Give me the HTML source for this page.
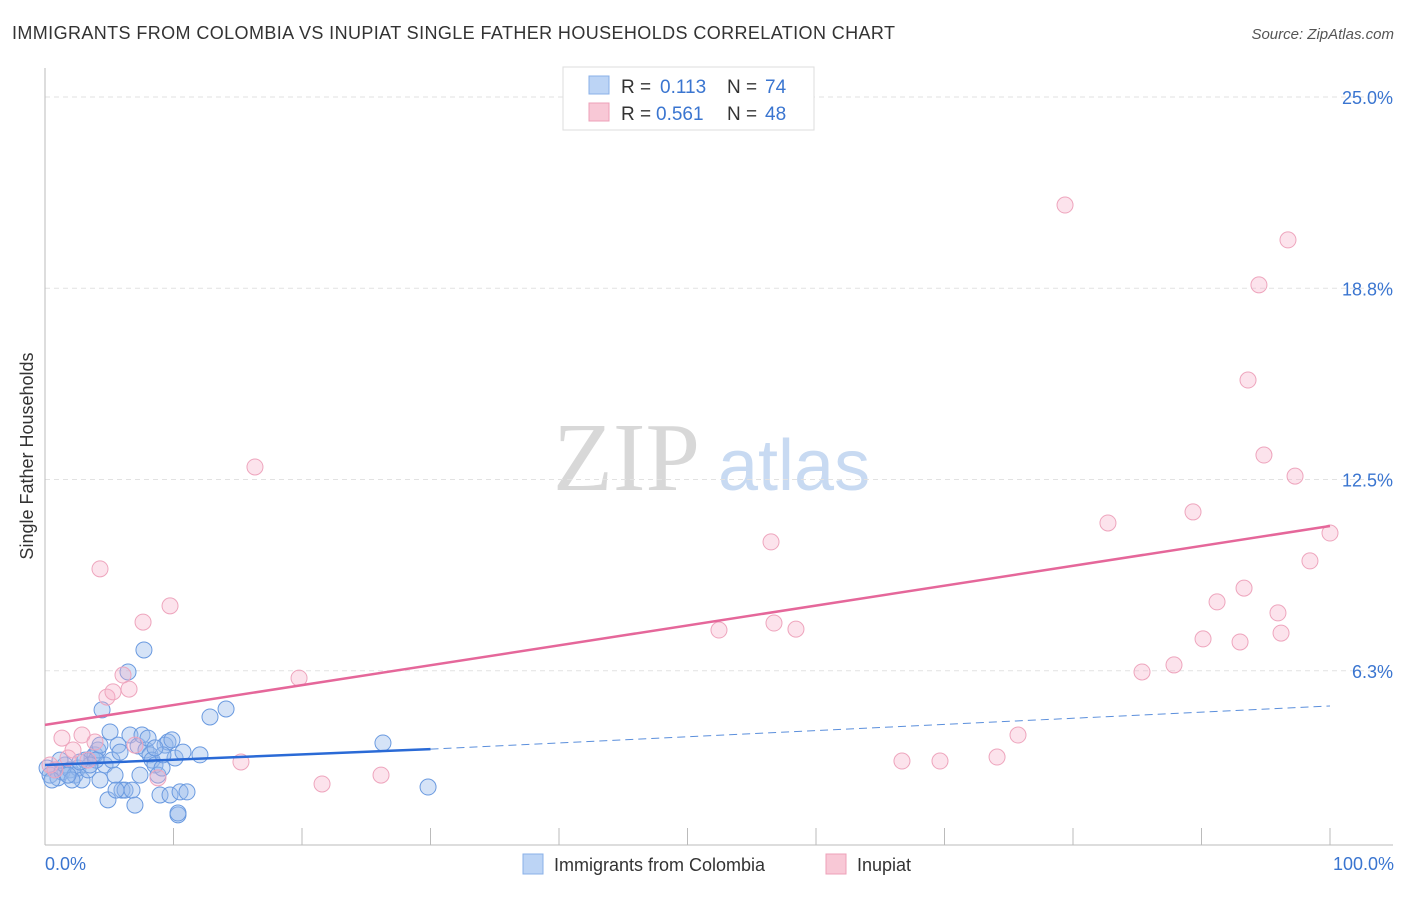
<!DOCTYPE html>
<html><head><meta charset="utf-8"><style>
body{margin:0;background:#fff;font-family:"Liberation Sans",sans-serif;}
svg text{font-family:"Liberation Sans",sans-serif;}
</style></head><body>
<svg id="c" width="1406" height="892" xmlns="http://www.w3.org/2000/svg">
<text x="12" y="39" font-size="18" fill="#333" textLength="883" lengthAdjust="spacing">IMMIGRANTS FROM COLOMBIA VS INUPIAT SINGLE FATHER HOUSEHOLDS CORRELATION CHART</text>
<text x="1394" y="39" font-size="15" fill="#555" text-anchor="end" font-style="italic">Source: ZipAtlas.com</text>
<text x="553" y="490" font-size="98" fill="#d8d8d8" style="font-family:'Liberation Serif',serif">ZIP</text>
<text x="718" y="490" font-size="72" fill="#c8daf2">atlas</text>
<g id="grid"></g>
<line x1="45" y1="68" x2="45" y2="845" stroke="#bbb"/>
<line x1="45" y1="845" x2="1393" y2="845" stroke="#bbb"/>
<g id="ticks"></g>
<g id="pts"></g>
<g id="lines"></g>
<text x="33" y="456" font-size="18" fill="#333" text-anchor="middle" transform="rotate(-90 33 456)">Single Father Households</text>
<text x="45" y="870" font-size="18" fill="#3a75d0">0.0%</text>
<text x="1394" y="870" font-size="18" fill="#3a75d0" text-anchor="end">100.0%</text>
<g>
<rect x="563" y="67" width="251" height="63" fill="#fff" stroke="#ddd"/>
<rect x="589" y="76" width="20" height="18" fill="#bcd4f5" stroke="#8ab0e8"/>
<rect x="589" y="103" width="20" height="18" fill="#f8c8d6" stroke="#eea0b8"/>
<text x="621" y="93" font-size="19" fill="#333">R = </text><text x="660" y="93" font-size="19" fill="#3a75d0">0.113</text>
<text x="727" y="93" font-size="19" fill="#333">N = </text><text x="765" y="93" font-size="19" fill="#3a75d0">74</text>
<text x="621" y="120" font-size="19" fill="#333">R = </text><text x="656" y="120" font-size="19" fill="#3a75d0">0.561</text>
<text x="727" y="120" font-size="19" fill="#333">N = </text><text x="765" y="120" font-size="19" fill="#3a75d0">48</text>
</g>
<g>
<rect x="523" y="854" width="20" height="20" fill="#bcd4f5" stroke="#8ab0e8"/>
<text x="554" y="871" font-size="18" fill="#333">Immigrants from Colombia</text>
<rect x="826" y="854" width="20" height="20" fill="#f8c8d6" stroke="#eea0b8"/>
<text x="857" y="871" font-size="18" fill="#333">Inupiat</text>
</g>
</svg>
<script>
const yTicks=[25,18.75,12.5,6.25];
const yTickLabels=["25.0%","18.8%","12.5%","6.3%"];
const xTicks=[10,20,30,40,50,60,70,80,90,100];
const blueX=[0.16,0.39,0.78,1.01,1.32,1.56,1.95,2.33,2.57,2.88,3.11,3.35,3.66,3.89,4.12,4.28,4.44,4.67,4.90,5.06,5.21,5.45,5.68,5.84,5.99,6.23,6.46,6.61,6.77,7.00,7.24,7.39,7.55,7.70,7.86,8.02,8.17,8.33,8.56,8.79,8.95,9.11,9.34,9.57,9.73,9.88,10.12,10.35,10.51,10.74,11.05,12.06,12.84,14.09,26.30,29.81,3.97,1.17,0.54,2.10,3.50,5.53,9.18,2.72,8.56,1.79,10.35,4.28];
const blueY=[3.07,2.84,3.01,2.75,2.94,3.17,3.01,2.84,3.07,2.68,3.33,3.01,3.40,3.50,3.66,2.68,4.97,3.17,2.03,4.25,3.33,2.84,3.82,3.59,2.35,2.35,6.21,4.15,2.35,1.86,3.79,2.84,4.15,6.93,3.66,4.05,3.50,3.33,3.17,2.84,2.19,3.07,3.82,3.92,2.19,3.99,3.40,1.54,2.29,3.59,2.29,3.50,4.74,5.00,3.89,2.45,3.33,3.33,2.68,2.68,3.17,2.35,3.50,3.27,3.73,2.84,1.60,3.82];
const pinkX=[16.34,79.38,96.73,94.47,93.62,94.86,97.28,82.72,89.34,100.0,98.44,56.50,93.31,91.21,95.95,96.19,90.12,93.00,52.45,56.73,58.44,87.86,85.37,75.72,74.09,66.69,69.65,19.77,26.15,21.56,15.25,8.79,4.28,9.73,7.63,6.07,6.54,4.82,5.29,1.32,2.88,2.18,3.89,0.39,0.78,3.35,7.00,1.79];
const pinkY=[12.91,21.47,20.33,18.86,15.75,13.30,12.61,11.08,11.44,10.75,9.84,10.46,8.95,8.50,8.14,7.48,7.29,7.19,7.58,7.81,7.61,6.44,6.21,4.15,3.43,3.30,3.30,6.01,2.84,2.55,3.27,2.75,9.58,8.37,7.84,6.11,5.65,5.39,5.56,4.05,4.15,3.66,3.92,3.17,3.01,3.33,3.82,3.40];
const blueTrend=[[0,3.17],[30,3.69],[100,5.10]];
const pinkTrend=[[0,4.48],[100,10.98]];
const NS="http://www.w3.org/2000/svg";
const sx=v=>45+v*12.85, sy=v=>862-v*30.6;
function mk(t,a,p){const e=document.createElementNS(NS,t);for(const k in a)e.setAttribute(k,a[k]);p.appendChild(e);return e;}
const grid=document.getElementById('grid'),ticks=document.getElementById('ticks'),pts=document.getElementById('pts'),lines=document.getElementById('lines');
yTicks.forEach((v,i)=>{
 const l=mk('line',{x1:45,x2:1393,y1:sy(v),y2:sy(v),stroke:'#e2e2e2','stroke-dasharray':'5,4'},grid);
 
 
 const t=mk('text',{x:1393,y:sy(v)+7,'font-size':18,fill:'#3a75d0','text-anchor':'end'},ticks);
 t.textContent=yTickLabels[i];
 
 
});
xTicks.forEach(v=>{
 const l=mk('line',{x1:sx(v),x2:sx(v),y1:828,y2:845,stroke:'#bbb'},ticks);
 
 
});
blueX.forEach((x,i)=>{
 const c=mk('circle',{cx:sx(x),cy:sy(blueY[i]),r:8,fill:'rgba(150,185,235,0.4)',stroke:'#6a9ae0','stroke-width':1},pts);
 
 
});
pinkX.forEach((x,i)=>{
 const c=mk('circle',{cx:sx(x),cy:sy(pinkY[i]),r:8,fill:'rgba(245,175,200,0.35)',stroke:'#eea5bd','stroke-width':1},pts);
 
 
});
let b1=mk('line',{x1:sx(blueTrend[0][0]),y1:sy(blueTrend[0][1]),x2:sx(blueTrend[1][0]),y2:sy(blueTrend[1][1]),stroke:'#2a6ad6','stroke-width':2.5},lines);


let b2=mk('line',{x1:sx(blueTrend[1][0]),y1:sy(blueTrend[1][1]),x2:sx(blueTrend[2][0]),y2:sy(blueTrend[2][1]),stroke:'#5b8fdc','stroke-width':1,'stroke-dasharray':'8,5'},lines);


let p1=mk('line',{x1:sx(pinkTrend[0][0]),y1:sy(pinkTrend[0][1]),x2:sx(pinkTrend[1][0]),y2:sy(pinkTrend[1][1]),stroke:'#e5679a','stroke-width':2.5},lines);


</script>
</body></html>
